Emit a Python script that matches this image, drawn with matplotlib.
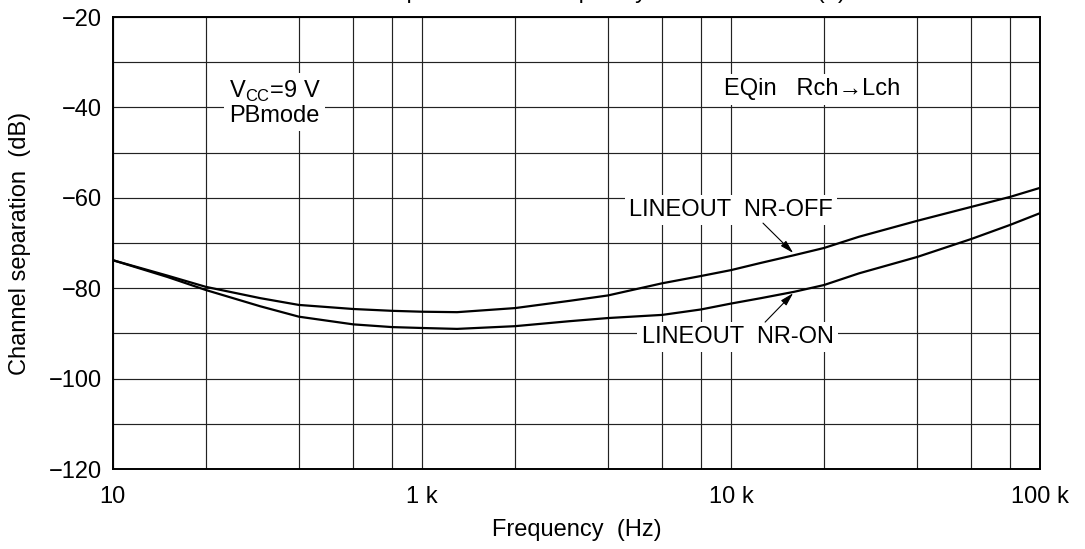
import matplotlib
matplotlib.use("Agg")
import matplotlib.pyplot as plt

plt.rcParams["font.family"] = ["Liberation Sans", "DejaVu Sans"]
plt.rcParams["mathtext.fontset"] = "custom"
plt.rcParams["mathtext.rm"] = "Liberation Sans"

# === Dati ===
freq = [100, 150, 200, 300, 400, 600, 800, 1000, 1300, 2000, 3000, 4000,
        6000, 8000, 10000, 12500, 16000, 20000, 26000, 40000, 60000, 80000, 100000]
nr_off = [-73.8, -77.2, -79.7, -82.2, -83.7, -84.6, -85.0, -85.2, -85.3, -84.4, -82.8, -81.6,
          -78.9, -77.3, -76.0, -74.4, -72.7, -71.1, -68.6, -65.1, -62.0, -59.8, -57.8]
nr_on = [-73.8, -77.5, -80.4, -84.0, -86.3, -88.0, -88.6, -88.8, -89.0, -88.4, -87.3, -86.6,
         -85.9, -84.7, -83.4, -82.2, -80.8, -79.3, -76.7, -73.1, -69.1, -66.0, -63.4]

x_ticks = [100, 1000, 10000, 100000]
x_labels = ["10", "1 k", "10 k", "100 k"]
y_ticks = [-120, -100, -80, -60, -40, -20]
y_labels = ["\u2212120", "\u2212100", "\u221280", "\u221260", "\u221240", "\u221220"]
x_grid = [m * 10 ** e for e in (2, 3, 4) for m in (1, 2, 4, 6, 8)] + [100000]
y_grid = list(range(-120, -19, 10))

fig = plt.figure(figsize=(10.85, 5.49), dpi=100)
ax = fig.add_axes([0.104, 0.1457, 0.8545, 0.8233])

ax.set_xscale("log")
ax.set_xlim(100, 100000)
ax.set_ylim(-120, -20)

# === Griglia ===
for xv in x_grid:
    ax.axvline(xv, color="#222222", lw=0.85, zorder=1)
for yv in y_grid:
    ax.axhline(yv, color="#222222", lw=0.85, zorder=1)

# === Curve ===
ax.plot(freq, nr_off, color="black", lw=1.6, zorder=3)
ax.plot(freq, nr_on, color="black", lw=1.6, zorder=3)

ax.set_xticks(x_ticks)
ax.set_xticklabels(x_labels)
ax.xaxis.set_minor_locator(matplotlib.ticker.NullLocator())
ax.set_yticks(y_ticks)
ax.set_yticklabels(y_labels)
ax.tick_params(axis="both", length=0, labelsize=17)
ax.tick_params(axis="x", pad=12)
ax.tick_params(axis="y", pad=8)
for s in ax.spines.values():
    s.set_linewidth(1.4)
    s.set_zorder(4)

ax.set_xlabel("Frequency  (Hz)", fontsize=17, labelpad=8)
ax.set_ylabel("Channel separation  (dB)", fontsize=17)
ax.yaxis.set_label_coords(-0.0885, 0.5)

# === Etichette ===
box = dict(facecolor="white", edgecolor="none", pad=3)
ax.text(237, -39.0, "V$_{\\mathrm{CC}}$=9 V\nPBmode", ha="left", va="center",
        fontsize=17, linespacing=1.05, bbox=box, zorder=5)
ax.text(18300, -36.0, "EQin   Rch\u2192Lch", ha="center", va="center",
        fontsize=17, bbox=box, zorder=5)
ax.text(10000, -62.7, "LINEOUT  NR-OFF", ha="center", va="center",
        fontsize=17, bbox=box, zorder=5)
ax.text(10500, -90.8, "LINEOUT  NR-ON", ha="center", va="center",
        fontsize=17, bbox=box, zorder=5)

arrow = dict(arrowstyle="-|>,head_length=0.8,head_width=0.22", color="black", lw=0.8,
             shrinkA=0, shrinkB=0)
ax.annotate("", xy=(15900, -72.2), xytext=(12700, -65.6), arrowprops=arrow, zorder=5)
ax.annotate("", xy=(15900, -81.1), xytext=(12900, -87.5), arrowprops=arrow, zorder=5)

# titolo tagliato in alto come nell'originale
fig.text(0.52, 1.004, "Channel Separation vs. Frequency Characteristics (1)",
         ha="center", va="baseline", fontsize=17)

fig.savefig("out.png", dpi=100)
plt.close(fig)
